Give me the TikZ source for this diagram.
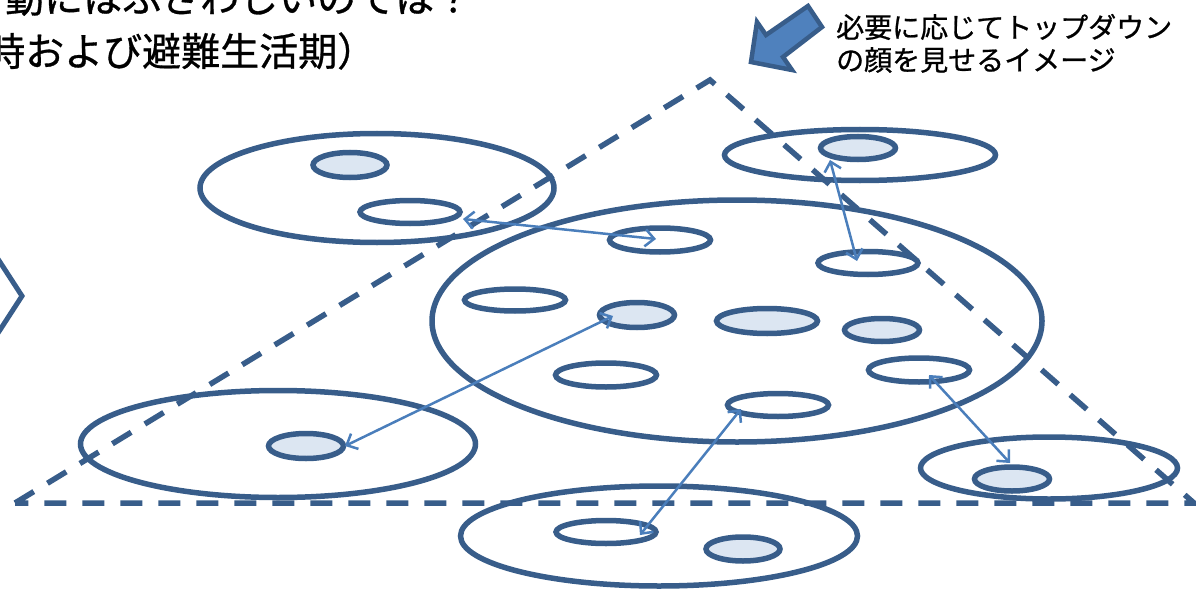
\documentclass[tikz,border=0pt]{standalone}
\usepackage{fontspec}
\newfontfamily\jp[FakeBold=0.8]{Noto Sans CJK JP}
\usetikzlibrary{shapes.geometric,arrows.meta}
\definecolor{edge}{HTML}{385D8A}
\definecolor{lite}{HTML}{DCE6F2}
\definecolor{link}{HTML}{4A7EBB}
\definecolor{bigarrow}{HTML}{4F81BD}
\tikzset{
  grp/.style={ellipse, draw=edge, line width=5.5pt, inner sep=0pt},
  fullm/.style={ellipse, draw=edge, line width=5.5pt, inner sep=0pt, fill=lite},
  emptym/.style={ellipse, draw=edge, line width=5.5pt, inner sep=0pt},
  linkarrow/.style={draw=link, line width=2.5pt,
    {Straight Barb[length=9pt,width=17pt]}-{Straight Barb[length=9pt,width=17pt]}},
  tri/.style={draw=edge, line width=5.5pt, dash pattern=on 22pt off 16pt},
  jptext/.style={font=\jp, inner sep=0pt, anchor=west}
}
\begin{document}
\begin{tikzpicture}[x=1pt,y=-1pt]
\useasboundingbox (0,0) rectangle (1196,591);
\clip (0,0) rectangle (1196,591);
% dashed triangle
\coordinate (apex) at (710,80);
\coordinate (bl) at (15,503);
\coordinate (br) at (1194,503);
\draw[tri] (bl) -- (apex) -- (br) -- cycle;
% big groups
\node[grp, minimum width=354pt, minimum height=109pt] (g1) at (377,188) {};
\node[grp, minimum width=271pt, minimum height=51pt] (g2) at (860,155) {};
\node[grp, minimum width=610pt, minimum height=242pt] (g3) at (737,321) {};
\node[grp, minimum width=395pt, minimum height=107pt] (g4) at (278,444) {};
\node[grp, minimum width=397pt, minimum height=100pt] (g5) at (659,536) {};
\node[grp, minimum width=257pt, minimum height=62pt] (g6) at (1049,468) {};
% members
\node[fullm, minimum width=74pt, minimum height=25pt] (s1) at (350,165) {};
\node[emptym, minimum width=100pt, minimum height=23pt] (s2) at (410,212) {};
\node[fullm, minimum width=75pt, minimum height=23pt] (s3) at (858,148) {};
\node[emptym, minimum width=101pt, minimum height=24pt] (s4) at (660,240) {};
\node[emptym, minimum width=100pt, minimum height=23pt] (s5) at (868,263) {};
\node[emptym, minimum width=101pt, minimum height=22pt] (s6) at (515,300) {};
\node[fullm, minimum width=75pt, minimum height=25pt] (s7) at (637,315) {};
\node[fullm, minimum width=101pt, minimum height=25pt] (s8) at (767,321) {};
\node[fullm, minimum width=75pt, minimum height=23pt] (s9) at (882,330) {};
\node[emptym, minimum width=101pt, minimum height=24pt] (s10) at (919,370) {};
\node[emptym, minimum width=101pt, minimum height=24pt] (s11) at (606,375) {};
\node[emptym, minimum width=101pt, minimum height=23pt] (s12) at (778,405) {};
\node[fullm, minimum width=75pt, minimum height=25pt] (s13) at (306,446) {};
\node[fullm, minimum width=75pt, minimum height=24pt] (s14) at (1012,479) {};
\node[emptym, minimum width=100pt, minimum height=23pt] (s15) at (606,532) {};
\node[fullm, minimum width=74pt, minimum height=24pt] (s16) at (743,549) {};
% link end points
\coordinate (a1) at (463,219);
\coordinate (a2) at (656,239);
\coordinate (b1) at (830,160);
\coordinate (b2) at (857,261);
\coordinate (c1) at (613,316);
\coordinate (c2) at (345,446);
\coordinate (d1) at (741,409);
\coordinate (d2) at (640,535);
\coordinate (e1) at (929,375);
\coordinate (e2) at (1010,463);
\draw[linkarrow] (a1) -- (a2);
\draw[linkarrow] (b1) -- (b2);
\draw[linkarrow] (c1) -- (c2);
\draw[linkarrow] (d1) -- (d2);
\draw[linkarrow] (e1) -- (e2);
% chevron at left edge
\coordinate (v1) at (-2,259);
\coordinate (v2) at (22,296);
\coordinate (v3) at (-2,333);
\draw[edge, line width=5pt] (v1) -- (v2) -- (v3);
% big block arrow
\draw[edge, line width=4.5pt, fill=bigarrow, line join=miter]
  (808,6) -- (822,27) -- (783,57) -- (792,70) -- (751,62) -- (757,22) -- (766,35) -- cycle;
% texts
\node[jptext] (t1) at (5,-2) {\fontsize{39pt}{39pt}\selectfont 動にはふさわしいのでは？};
\node[jptext] (t2) at (-14,51) {\fontsize{39pt}{39pt}\selectfont 時および避難生活期）};
\node[jptext] (t3) at (836,27) {\fontsize{28pt}{28pt}\selectfont 必要に応じてトップダウン};
\node[jptext] (t4) at (836,60) {\fontsize{28pt}{28pt}\selectfont の顔を見せるイメージ};
\end{tikzpicture}
\end{document}
